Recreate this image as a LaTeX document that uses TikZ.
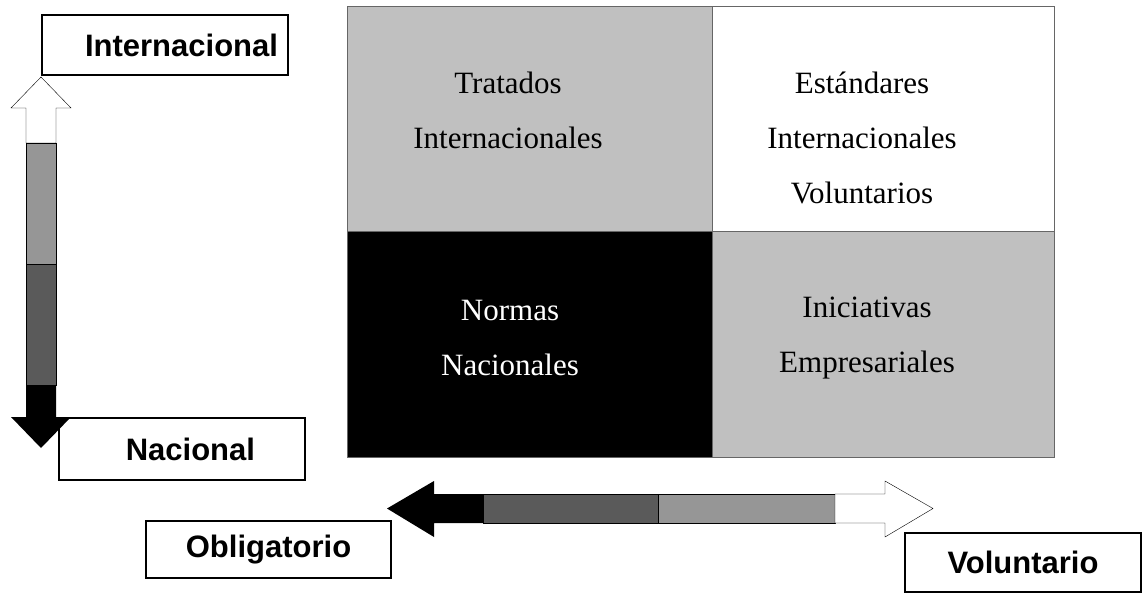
\documentclass[tikz,border=0pt]{standalone}
\usepackage{fontspec}
\setmainfont{Liberation Serif}
\newfontfamily\axisfont{Liberation Sans}
\definecolor{cellgray}{HTML}{C0C0C0}
\definecolor{barlight}{HTML}{969696}
\definecolor{bardark}{HTML}{5A5A5A}
\definecolor{gridline}{HTML}{666666}
\usetikzlibrary{positioning}
\tikzstyle{axis}=[draw,line width=1.6pt,fill=white,inner ysep=0pt,
  font=\axisfont\bfseries\fontsize{31}{31}\selectfont]
\tikzstyle{cell}=[draw=gridline,line width=.8pt,inner sep=0pt,
  minimum width=365pt,minimum height=225pt]
\tikzstyle{txt}=[align=center,font=\fontsize{31}{55}\selectfont]

\begin{document}
\begin{tikzpicture}[x=1pt, y=-1pt]
  \useasboundingbox (0,0) rectangle (1143,594);

  \node[cell, fill=cellgray] (tl) at (529.5,118.5) {};
  \node[cell, fill=white, minimum width=342pt] (tr) at (883,118.5) {};
  \node[cell, fill=black, minimum height=226pt] (bl) at (529.5,344) {};
  \node[cell, fill=cellgray, minimum width=342pt, minimum height=226pt] (br) at (883,344) {};

  \node[txt] (tratados) at (508,110) {Tratados\\Internacionales};
  \node[txt] (estandares) at (862,138) {Estándares\\Internacionales\\Voluntarios};
  \node[txt, text=white] (normas) at (510,338) {Normas\\Nacionales};
  \node[txt] (iniciativas) at (867,338) {Iniciativas\\Empresariales};

  \node[axis, minimum width=246pt, minimum height=60pt, text width=226pt,
    inner xsep=10pt, align=right] (intl) at (165,45) {Internacional};
  \node[axis, minimum width=246pt, minimum height=62pt, text width=146pt,
    inner xsep=50pt, align=right] (nac) at (182,449) {Nacional};
  \node[axis, minimum width=245pt, minimum height=57pt] (oblig) at (268.5,549.5) {Obligatorio};
  \node[axis, minimum width=236pt, minimum height=59pt] (volun) at (1023,562.5) {Voluntario};

  \draw[thin, fill=white] (26,143) -- (26,108) -- (11,108) -- (41,77) -- (71,108)
    -- (56,108) -- (56,143) -- cycle;
  \draw[thin, fill=barlight] (26,143) rectangle (56,264);
  \draw[thin, fill=bardark] (26,264) rectangle (56,385);
  \fill (26,385) -- (26,417) -- (11,417) -- (41,448) -- (71,417) -- (56,417)
    -- (56,385) -- cycle;

  \fill (483,494) -- (434,494) -- (434,481) -- (387,508.5) -- (434,537)
    -- (434,523) -- (483,523) -- cycle;
  \draw[thin, fill=bardark] (483,494) rectangle (658,523);
  \draw[thin, fill=barlight] (658,494) rectangle (835,523);
  \draw[thin, fill=white] (835,494) -- (885,494) -- (885,481) -- (933,508.5)
    -- (885,537) -- (885,523) -- (835,523) -- cycle;
\end{tikzpicture}
\end{document}
